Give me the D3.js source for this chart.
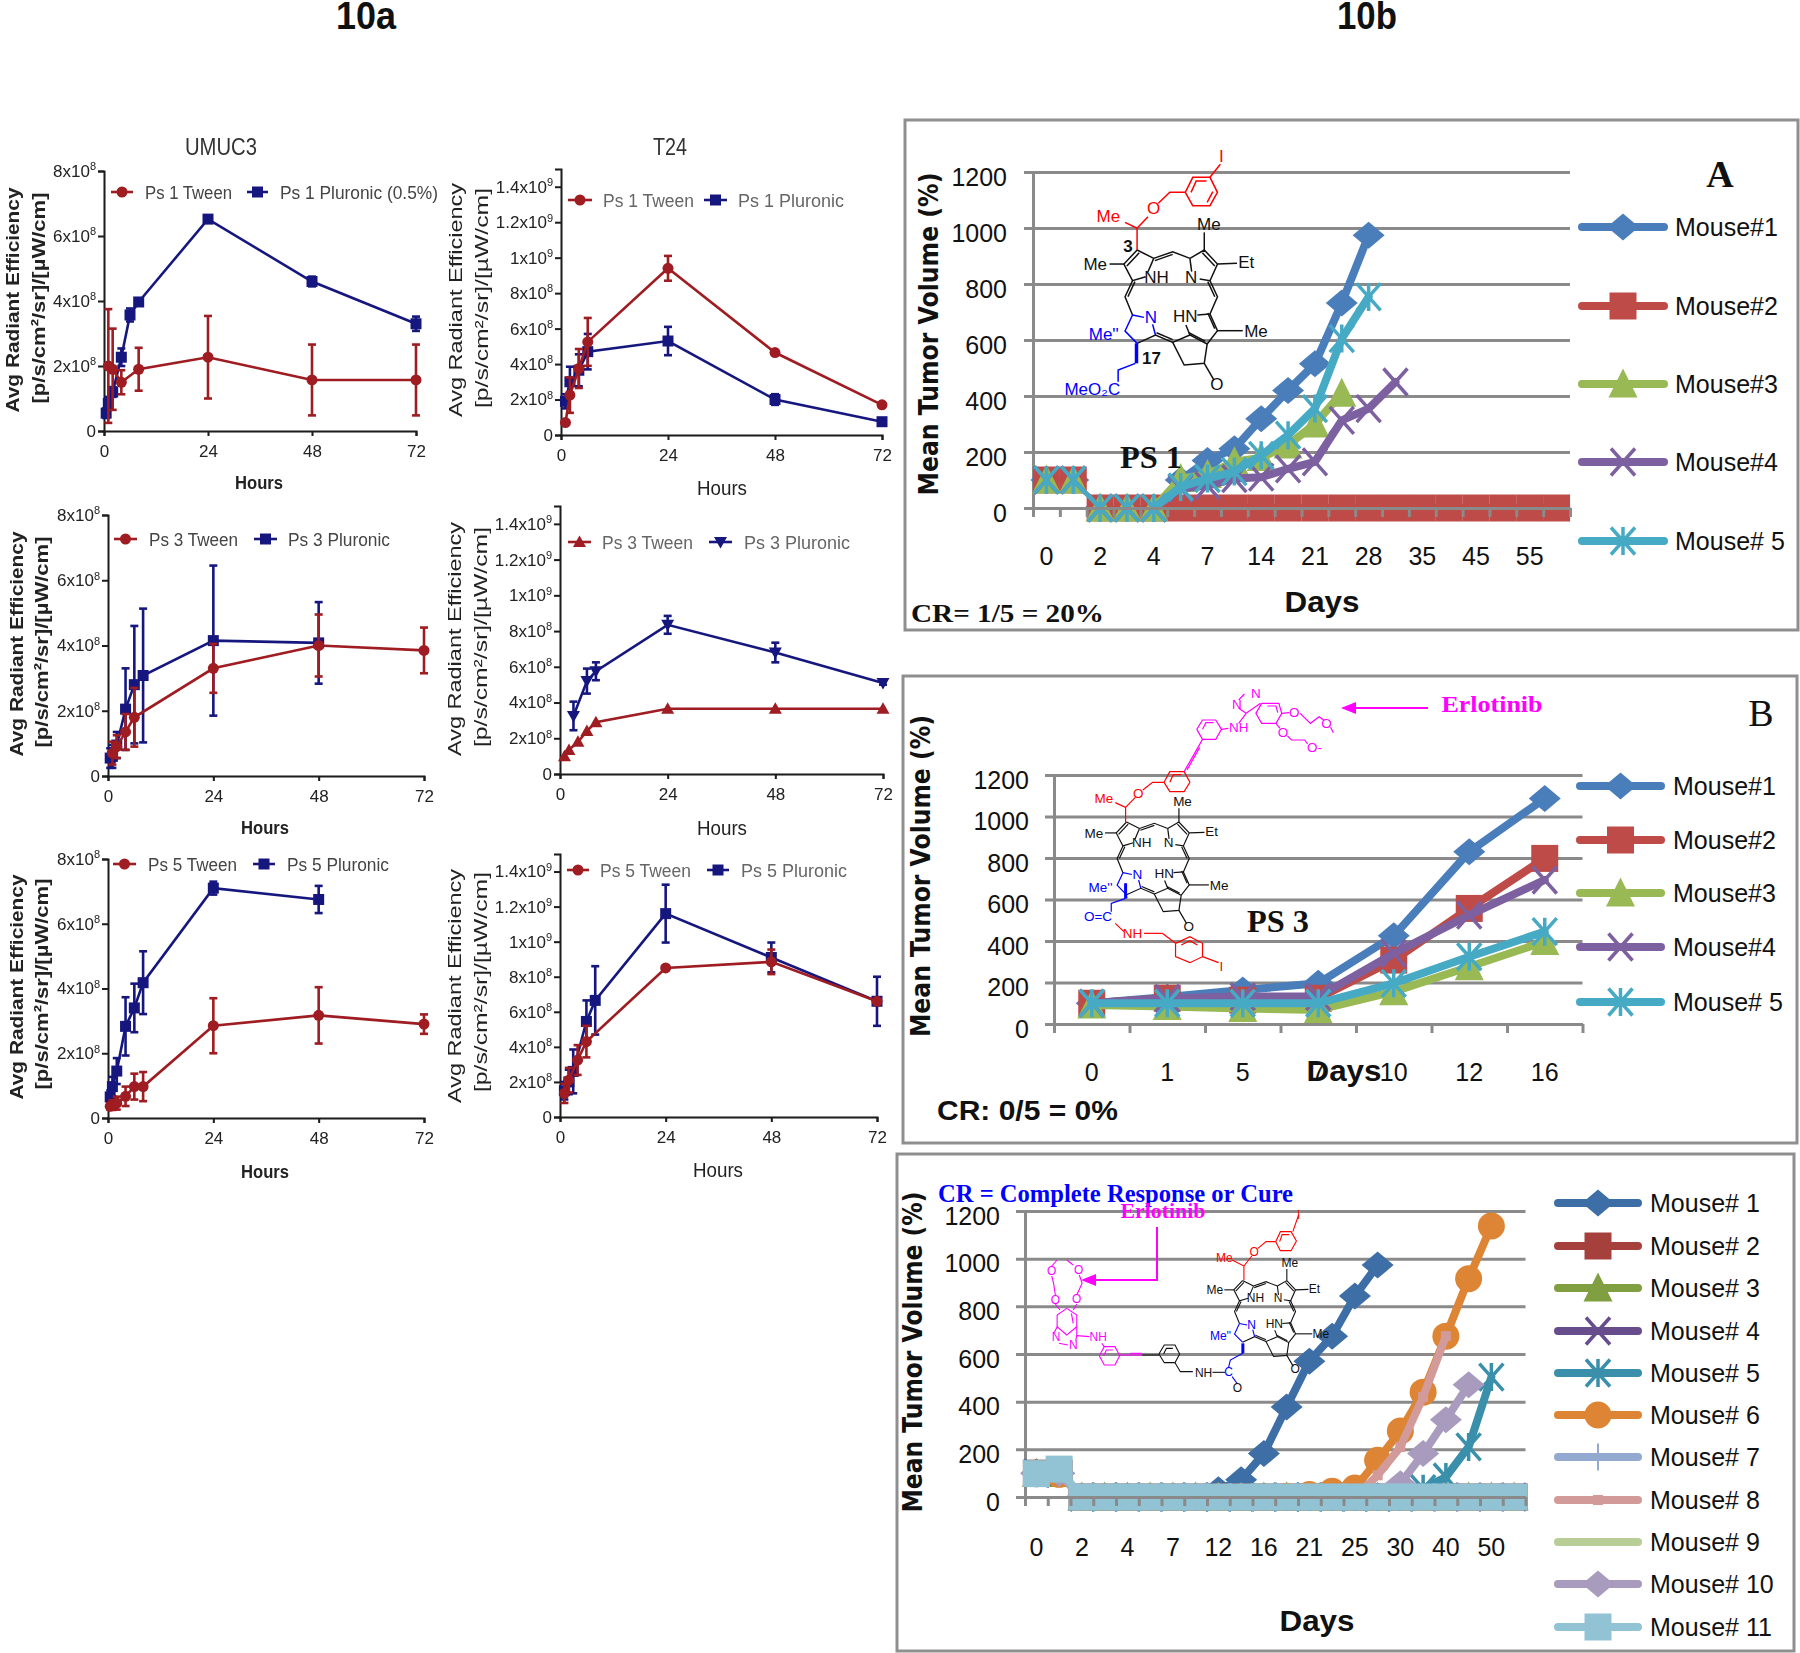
<!DOCTYPE html>
<html lang="en">

<head>
  <meta charset="UTF-8">
  <title>Figure 10 - tumor imaging and response</title>
  <style>
    body { margin: 0; background: #fff; }
    text { font-family: "Liberation Sans", Arial, sans-serif; }
  </style>
</head>

<body>
  <svg id="fig" width="1800" height="1653"></svg>

  <script src="https://d3js.org/d3.v7.min.js"></script>
  <script>
    // ---------- 10a: radiant efficiency, means and error bars in units of 1e8 ----------
    const ps1UmucTweenH = [1, 2, 4, 8, 24, 48, 72];
    const ps1UmucTween = [2.0, 1.9, 1.5, 1.9, 2.27, 1.57, 1.57];
    const ps1UmucTweenErr = [1.75, 1.25, 0.37, 0.66, 1.27, 1.09, 1.09];
    const ps1UmucPluH = [0.5, 1, 2, 4, 6, 8, 24, 48, 72];
    const ps1UmucPlu = [0.55, 0.85, 1.2, 2.27, 3.57, 3.97, 6.52, 4.6, 3.3];
    const ps1UmucPluErr = [0.15, 0.2, 0.15, 0.27, 0.2, 0.1, 0.1, 0.15, 0.22];

    const ps1T24TweenH = [1, 2, 4, 6, 24, 48, 72];
    const ps1T24Tween = [0.7, 2.25, 3.75, 5.25, 9.4, 4.65, 1.7];
    const ps1T24TweenErr = [0.1, 1.0, 1.1, 1.35, 0.7, 0.1, 0.1];
    const ps1T24PluH = [1, 2, 4, 6, 24, 48, 72];
    const ps1T24Plu = [1.9, 3.0, 3.65, 4.7, 5.3, 2.0, 0.75];
    const ps1T24PluErr = [0.4, 0.85, 0.9, 1.0, 0.8, 0.3, 0.15];

    const ps3UmucTweenH = [1, 2, 4, 6, 24, 48, 72];
    const ps3UmucTween = [0.7, 0.9, 1.35, 1.8, 3.3, 4.0, 3.85];
    const ps3UmucTweenErr = [0.35, 0.35, 0.55, 0.9, 0.75, 0.95, 0.7];
    const ps3UmucPluH = [0.5, 1, 2, 4, 6, 8, 24, 48];
    const ps3UmucPlu = [0.55, 0.6, 0.95, 2.05, 2.8, 3.08, 4.15, 4.08];
    const ps3UmucPluErr = [0.3, 0.35, 0.4, 1.25, 1.8, 2.05, 2.3, 1.25];

    const ps3T24TweenH = [1, 2, 4, 6, 8, 24, 48, 72];
    const ps3T24Tween = [1.0, 1.35, 1.8, 2.4, 2.9, 3.65, 3.65, 3.65];
    const ps3T24TweenErr = [0, 0, 0, 0, 0, 0, 0, 0];
    const ps3T24PluH = [3, 6, 8, 24, 48, 72];
    const ps3T24Plu = [3.25, 5.2, 5.75, 8.35, 6.8, 5.1];
    const ps3T24PluErr = [0.8, 0.7, 0.5, 0.5, 0.55, 0.1];

    const ps5UmucTweenH = [0.5, 1, 2, 4, 6, 8, 24, 48, 72];
    const ps5UmucTween = [0.36, 0.4, 0.46, 0.67, 0.97, 0.97, 2.85, 3.17, 2.9];
    const ps5UmucTweenErr = [0.1, 0.15, 0.2, 0.3, 0.4, 0.45, 0.85, 0.87, 0.3];
    const ps5UmucPluH = [0.5, 1, 2, 4, 6, 8, 24, 48];
    const ps5UmucPlu = [0.65, 0.97, 1.45, 2.83, 3.4, 4.18, 7.1, 6.75];
    const ps5UmucPluErr = [0.2, 0.3, 0.4, 0.9, 0.75, 0.97, 0.2, 0.42];

    const ps5T24TweenH = [1, 2, 4, 6, 24, 48, 72];
    const ps5T24Tween = [1.35, 2.1, 3.25, 4.3, 8.5, 8.85, 6.6];
    const ps5T24TweenErr = [0.55, 0.7, 0.85, 0.9, 0.1, 0.7, 0.1];
    const ps5T24PluH = [1, 2, 3, 6, 8, 24, 48, 72];
    const ps5T24Plu = [1.5, 2.0, 2.6, 5.45, 6.65, 11.6, 9.1, 6.6];
    const ps5T24PluErr = [0.5, 0.7, 1.25, 1.2, 1.95, 1.65, 0.85, 1.4];

    const hourTicks = [0, 24, 48, 72];
    const umucTicks = [0, 2, 4, 6, 8];
    const umucLabels = ["0", "2x10|8", "4x10|8", "6x10|8", "8x10|8"];
    const t24Ticks = [0, 2, 4, 6, 8, 10, 12, 14];
    const t24Labels = ["0", "2x10|8", "4x10|8", "6x10|8", "8x10|8", "1x10|9", "1.2x10|9", "1.4x10|9"];

    // ---------- 10b: tumor volume per mouse ----------
    const daysA = ["0", "", "2", "", "4", "", "7", "", "14", "", "21", "", "28", "", "35", "", "45", "", "55", ""];
    const mouseNamesA = ["Mouse#1", "Mouse#2", "Mouse#3", "Mouse#4", "Mouse# 5"];
    const a1 = [100, 100, 0, 0, 0, 100, 170, 212, 319, 420, 515, 732, 974];
    const a2 = [100, 100, 0, 0, 0, 0, 0, 0, 0, 0, 0, 0, 0, 0, 0, 0, 0, 0, 0, 0];
    const a3 = [100, 100, 0, 0, 0, 105, 120, 165, 180, 225, 300, 410];
    const a4 = [100, 100, 0, 0, 0, 70, 80, 105, 110, 140, 165, 313, 355, 450];
    const a5 = [100, 100, 0, 0, 0, 75, 105, 130, 188, 260, 355, 605, 754];

    const daysB = ["0", "1", "5", "7", "10", "12", "16"];
    const mouseNamesB = ["Mouse#1", "Mouse#2", "Mouse#3", "Mouse#4", "Mouse# 5"];
    const b1 = [100, 130, 164, 196, 425, 830, 1087];
    const b2 = [100, 124, 115, 124, 308, 557, 798];
    const b3 = [92, 84, 75, 68, 156, 276, 397];
    const b4 = [100, 124, 132, 132, 340, 525, 694];
    const b5 = [100, 100, 100, 100, 196, 324, 445];

    const daysC = ["0", "", "2", "", "4", "", "7", "", "12", "", "16", "", "21", "", "25", "", "30", "", "40", "", "50", ""];
    const mouseNamesC = ["Mouse# 1", "Mouse# 2", "Mouse# 3", "Mouse# 4", "Mouse# 5", "Mouse# 6", "Mouse# 7", "Mouse# 8", "Mouse#  9", "Mouse# 10", "Mouse# 11"];
    const c1 = [100, 100, 0, 0, 0, 0, 0, 0, 30, 72, 182, 378, 570, 675, 843, 973];
    const c2 = [100, 100, 0, 0, 0, 0, 0, 0, 0, 0, 0, 0, 0, 0, 0, 0, 0, 0, 0, 0, 0, 0];
    const c3 = [100, 100, 0, 0, 0, 0, 0, 0, 0, 0, 0, 0, 0, 0, 0, 0, 0, 0, 0, 0, 0, 0];
    const c4 = [100, 100, 0, 0, 0, 0, 0, 0, 0, 0, 0, 0, 0, 0, 0, 0, 0, 0, 0, 0, 0, 0];
    const c5 = [100, 100, 0, 0, 0, 0, 0, 0, 0, 0, 0, 0, 0, 0, 0, 0, 0, 35, 84, 210, 503];
    const c6 = [100, 95, 0, 0, 0, 0, 0, 0, 0, 0, 0, 3, 10, 24, 38, 154, 277, 440, 675, 916, 1137];
    const c7 = [100, 100, 0, 0, 0, 0, 0, 0, 0, 0, 0, 0, 0, 0, 0, 0, 0, 0, 0, 0, 0, 0];
    const c8 = [100, 100, 0, 0, 0, 0, 0, 0, 0, 0, 0, 0, 0, 0, 0, 91, 210, 420, 675];
    const c9 = [100, 100, 0, 0, 0, 0, 0, 0, 0, 0, 0, 0, 0, 0, 0, 0, 0, 0, 0, 0, 0, 0];
    const c10 = [100, 100, 0, 0, 0, 0, 0, 0, 0, 0, 0, 0, 0, 0, 0, 0, 56, 182, 324, 471];
    const c11 = [98, 117, 0, 0, 0, 0, 0, 0, 0, 0, 0, 0, 0, 0, 0, 0, 0, 0, 0, 0, 0, 0];

    const volumeTicks = [0, 200, 400, 600, 800, 1000, 1200];

    const red = "#9e1b20", navy = "#16197f";
    const svg = d3.select("#fig");

    svg.append("defs").append("filter").attr("id", "soft")
      .append("feGaussianBlur").attr("stdDeviation", 0.45);

    function txt(parent, x, y, s, size, opts = {}) {
      const t = parent.append("text").attr("x", x).attr("y", y).text(s)
        .attr("font-size", size)
        .attr("fill", opts.fill || "#111")
        .attr("text-anchor", opts.anchor || "middle")
        .attr("font-weight", opts.weight || "normal");
      if (opts.family) t.style("font-family", opts.family);
      if (opts.len) t.attr("textLength", opts.len).attr("lengthAdjust", "spacingAndGlyphs");
      if (opts.rotate) t.attr("transform", `rotate(-90,${x},${y})`);
      return t;
    }

    txt(svg, 366, 29, "10a", 38, { weight: "bold", len: 60 });
    txt(svg, 1367, 29, "10b", 38, { weight: "bold", len: 60 });

    // ---------- left column: small prism style plots ----------
    const smallMarker = {
      circle: "M-5.5,0A5.5,5.5 0 1,1 5.5,0A5.5,5.5 0 1,1 -5.5,0Z",
      square: "M-5.5,-5.5H5.5V5.5H-5.5Z",
      up: "M0,-6.5L6.5,5H-6.5Z",
      down: "M0,6.5L6.5,-5H-6.5Z"
    };

    const leftPanels = [
      {
        x: [104, 416], y: [431, 171], top: 8, ticks: umucTicks, labels: umucLabels, bold: true,
        ylab: [13, 300, 39, 298], hours: [259, 489], legY: 192,
        leg: [[111, 133, 145, "Ps 1 Tween", 87], [247, 268, 280, "Ps 1 Pluronic (0.5%)", 158]],
        series: [[ps1UmucPluH, ps1UmucPlu, ps1UmucPluErr, navy, "square"], [ps1UmucTweenH, ps1UmucTween, ps1UmucTweenErr, red, "circle"]]
      },
      {
        x: [561, 882], y: [435, 169], top: 15, ticks: t24Ticks, labels: t24Labels, bold: false,
        ylab: [456, 300, 482, 298], hours: [722, 495], legY: 200,
        leg: [[568, 592, 603, "Ps 1 Tween", 91], [704, 727, 738, "Ps 1 Pluronic", 106]],
        series: [[ps1T24PluH, ps1T24Plu, ps1T24PluErr, navy, "square"], [ps1T24TweenH, ps1T24Tween, ps1T24TweenErr, red, "circle"]]
      },
      {
        x: [108, 424], y: [776, 515], top: 8, ticks: umucTicks, labels: umucLabels, bold: true,
        ylab: [17, 644, 42, 642], hours: [265, 834], legY: 539,
        leg: [[114, 137, 149, "Ps 3 Tween", 89], [254, 277, 288, "Ps 3 Pluronic", 102]],
        series: [[ps3UmucPluH, ps3UmucPlu, ps3UmucPluErr, navy, "square"], [ps3UmucTweenH, ps3UmucTween, ps3UmucTweenErr, red, "circle"]]
      },
      {
        x: [560, 883], y: [774, 506], top: 15, ticks: t24Ticks, labels: t24Labels, bold: false,
        ylab: [455, 639, 481, 637], hours: [722, 835], legY: 542,
        leg: [[568, 591, 602, "Ps 3 Tween", 91], [709, 732, 744, "Ps 3 Pluronic", 106]],
        series: [[ps3T24PluH, ps3T24Plu, ps3T24PluErr, navy, "down"], [ps3T24TweenH, ps3T24Tween, ps3T24TweenErr, red, "up"]]
      },
      {
        x: [108, 424], y: [1118, 859], top: 8, ticks: umucTicks, labels: umucLabels, bold: true,
        ylab: [17, 987, 42, 984], hours: [265, 1178], legY: 864,
        leg: [[113, 136, 148, "Ps 5 Tween", 89], [253, 275, 287, "Ps 5 Pluronic", 102]],
        series: [[ps5UmucPluH, ps5UmucPlu, ps5UmucPluErr, navy, "square"], [ps5UmucTweenH, ps5UmucTween, ps5UmucTweenErr, red, "circle"]]
      },
      {
        x: [560, 877], y: [1117, 854], top: 15, ticks: t24Ticks, labels: t24Labels, bold: false,
        ylab: [455, 986, 481, 982], hours: [718, 1177], legY: 870,
        leg: [[567, 589, 600, "Ps 5 Tween", 91], [707, 729, 741, "Ps 5 Pluronic", 106]],
        series: [[ps5T24PluH, ps5T24Plu, ps5T24PluErr, navy, "square"], [ps5T24TweenH, ps5T24Tween, ps5T24TweenErr, red, "circle"]]
      }
    ];

    const leftG = svg.append("g").attr("filter", "url(#soft)");
    txt(leftG, 221, 155, "UMUC3", 23, { fill: "#333", len: 72 });
    txt(leftG, 670, 155, "T24", 23, { fill: "#333", len: 34 });

    leftPanels.forEach(p => {
      const g = leftG.append("g");
      const x = d3.scaleLinear().domain([0, 72]).range(p.x);
      const y = d3.scaleLinear().domain([0, p.top]).range(p.y);

      const yAxis = g.append("g").attr("transform", `translate(${p.x[0]},0)`)
        .call(d3.axisLeft(y).tickValues(p.ticks).tickFormat("").tickSize(6));
      const xAxis = g.append("g").attr("transform", `translate(0,${p.y[0]})`)
        .call(d3.axisBottom(x).tickValues(hourTicks).tickFormat(d3.format("d")).tickSize(5).tickPadding(9));
      [yAxis, xAxis].forEach(a => a.selectAll("path,line").attr("stroke", "#1a1a1a").attr("stroke-width", 2));
      xAxis.selectAll("text").attr("font-size", 17).attr("fill", "#222");

      // tick labels carry the exponent as a raised tspan
      yAxis.selectAll(".tick text").each(function (d, i) {
        const [base, exp] = p.labels[i].split("|");
        const t = d3.select(this).attr("font-size", 17).attr("fill", "#222").attr("x", -8).text(base);
        if (exp) t.append("tspan").attr("font-size", 11).attr("dy", "-0.6em").text(exp);
      });

      p.series.forEach(([hours, mean, err, color, shape]) => {
        const pts = hours.map((h, i) => ({ h, m: mean[i], e: err[i] }));
        const s = g.append("g");
        s.append("path").datum(pts)
          .attr("fill", "none").attr("stroke", color).attr("stroke-width", 2.6)
          .attr("d", d3.line().x(d => x(d.h)).y(d => y(d.m)));
        const eb = s.selectAll("g.err").data(pts.filter(d => d.e > 0)).enter().append("g");
        eb.append("line").attr("x1", d => x(d.h)).attr("x2", d => x(d.h))
          .attr("y1", d => y(d.m - d.e)).attr("y2", d => y(d.m + d.e));
        eb.append("line").attr("x1", d => x(d.h) - 4).attr("x2", d => x(d.h) + 4)
          .attr("y1", d => y(d.m - d.e)).attr("y2", d => y(d.m - d.e));
        eb.append("line").attr("x1", d => x(d.h) - 4).attr("x2", d => x(d.h) + 4)
          .attr("y1", d => y(d.m + d.e)).attr("y2", d => y(d.m + d.e));
        eb.selectAll("line").attr("stroke", color).attr("stroke-width", 2.6);
        s.selectAll("path.mk").data(pts).enter().append("path").attr("class", "mk")
          .attr("d", smallMarker[shape]).attr("fill", color)
          .attr("transform", d => `translate(${x(d.h)},${y(d.m)})`);
      });

      // y title is two rotated lines
      const w = p.bold ? "bold" : "normal";
      const lens = p.bold ? [225, 211] : [234, 220];
      txt(g, p.ylab[0] + 6, p.ylab[1], "Avg Radiant Efficiency", 18.5, { weight: w, rotate: true, len: lens[0], fill: "#222" });
      txt(g, p.ylab[2] + 6, p.ylab[3], "[p/s/cm²/sr]/[µW/cm]", 18.5, { weight: w, rotate: true, len: lens[1], fill: "#222" });
      txt(g, p.hours[0], p.hours[1], "Hours", p.bold ? 19 : 20, { weight: w, fill: "#222", len: p.bold ? 48 : 50 });

      // legend
      p.leg.forEach((l, i) => {
        const s = p.series[1 - i];
        g.append("line").attr("x1", l[0]).attr("x2", l[1]).attr("y1", p.legY).attr("y2", p.legY)
          .attr("stroke", s[3]).attr("stroke-width", 2.6);
        g.append("path").attr("d", smallMarker[s[4]]).attr("fill", s[3])
          .attr("transform", `translate(${(l[0] + l[1]) / 2},${p.legY})`);
        txt(g, l[2], p.legY + 7, l[3], 18, { anchor: "start", len: l[4], fill: p.bold ? "#444" : "#666" });
      });
    });

    // ---------- right column: excel style plots ----------
    const bigMarker = {
      diamond: "M0,-13.5L16,0L0,13.5L-16,0Z",
      square: "M-13.5,-13.5H13.5V13.5H-13.5Z",
      triangle: "M0,-15.5L14.5,13.5L-14.5,13.5Z",
      circle: "M-13.5,0A13.5,13.5 0 1,1 13.5,0A13.5,13.5 0 1,1 -13.5,0Z",
      x: "M-12,-13.5L12,13.5M12,-13.5L-12,13.5",
      star: "M-12,-13.5L12,13.5M12,-13.5L-12,13.5M0,-14V14",
      plus: "M0,-13.5V13.5",
      smallsquare: "M-5,-5H5V5H-5Z",
      dash: "M-13,-4H13V4H-13Z"
    };
    const isStroke = m => m === "x" || m === "star" || m === "plus";

    const excelA = ["#4a7ebb", "#be4b48", "#98b954", "#7d60a0", "#46aac5"];
    const excelC = ["#3d6ea6", "#a5403d", "#7f9f40", "#674d8c", "#3a8fab", "#dd8534", "#93a9cf", "#d29a98", "#b9cd96", "#a99bbd", "#92c3d4"];
    const shapes5 = ["diamond", "square", "triangle", "x", "star"];
    const shapes11 = ["diamond", "square", "triangle", "x", "star", "circle", "plus", "smallsquare", "dash", "diamond", "square"];

    const rightPanels = [
      {
        frame: [905, 120, 1798, 630], x: [1033, 1570], y: [508, 172], days: daysA, tickRight: -26,
        series: [a1, a2, a3, a4, a5], colors: excelA, shapes: shapes5, names: mouseNamesA,
        legX: [1582, 1664, 1675], legY: [227, 306, 384, 462, 541],
        ylab: [938, 334, 323], tickY: 565, days2: [1322, 612],
        thickFrom: 4 // only a thin drop shows before the tumours regrow
      },
      {
        frame: [903, 676, 1797, 1143], x: [1054, 1582.5], y: [1024, 775], days: daysB, tickRight: -25,
        series: [b1, b2, b3, b4, b5], colors: excelA, shapes: shapes5, names: mouseNamesB,
        legX: [1580, 1661, 1673], legY: [786, 840, 893, 947, 1002],
        ylab: [930, 876, 322], tickY: 1081, days2: [1344, 1081], thickFrom: 0
      },
      {
        frame: [897, 1154, 1794, 1651], x: [1025, 1525.5], y: [1497, 1211], days: daysC, tickRight: -25,
        series: [c1, c2, c3, c4, c5, c6, c7, c8, c9, c10, c11], colors: excelC, shapes: shapes11, names: mouseNamesC,
        legX: [1558, 1638, 1650], legY: [1203, 1246, 1288, 1331, 1373, 1415, 1457, 1500, 1542, 1584, 1627],
        ylab: [922, 1352, 321], tickY: 1556, days2: [1317, 1631], thickFrom: 0
      }
    ];

    const rightLayers = rightPanels.map(p => {
      const frame = svg.append("g");
      frame.append("rect").attr("x", p.frame[0]).attr("y", p.frame[1])
        .attr("width", p.frame[2] - p.frame[0]).attr("height", p.frame[3] - p.frame[1])
        .attr("fill", "#fff").attr("stroke", "#8f8f8f").attr("stroke-width", 3);

      const n = p.days.length;
      const xBand = d3.scaleBand().domain(d3.range(n)).range(p.x);
      const xEdge = d3.scaleLinear().domain([0, n]).range(p.x);
      const y = d3.scaleLinear().domain([0, 1200]).range(p.y);
      const width = p.x[1] - p.x[0];

      // gridlines and y axis sit under the series
      const grid = frame.append("g").attr("transform", `translate(${p.x[0]},0)`)
        .call(d3.axisLeft(y).tickValues(volumeTicks).tickFormat(d3.format("d")).tickSizeInner(-width).tickSizeOuter(0));
      grid.selectAll("path,line").attr("stroke", "#8a8a8a").attr("stroke-width", 3);
      grid.selectAll(".tick line").attr("x1", -9);
      grid.selectAll("text").attr("x", p.tickRight).attr("dy", "0.32em").attr("y", 5)
        .attr("font-size", 25).attr("fill", "#111");

      const line = d3.line().x(d => xBand(d.i) + xBand.bandwidth() / 2).y(d => y(d.v));
      p.series.forEach((vals, k) => {
        const pts = vals.map((v, i) => ({ i, v }));
        const s = frame.append("g");
        if (p.thickFrom > 0) {
          s.append("path").datum(pts.slice(1, 3)).attr("fill", "none").attr("stroke", p.colors[k])
            .attr("stroke-width", 4).attr("d", line);
        }
        s.append("path").datum(pts.slice(p.thickFrom)).attr("fill", "none").attr("stroke", p.colors[k])
          .attr("stroke-width", 8).attr("stroke-linejoin", "round").attr("stroke-linecap", "round").attr("d", line);
        const shape = p.shapes[k];
        s.selectAll("path.mk").data(pts).enter().append("path").attr("class", "mk")
          .attr("d", bigMarker[shape])
          .attr("transform", d => `translate(${xBand(d.i) + xBand.bandwidth() / 2},${y(d.v)})`)
          .attr("fill", isStroke(shape) ? "none" : p.colors[k])
          .attr("stroke", isStroke(shape) ? p.colors[k] : "none")
          .attr("stroke-width", shape === "plus" ? 2 : 3.5);
      });

      // x axis goes over the series, the zero line stays visible on the squares
      const xAxis = frame.append("g").attr("transform", `translate(0,${p.y[0]})`)
        .call(d3.axisBottom(xEdge).tickValues(d3.range(n + 1)).tickFormat("").tickSizeOuter(0).tickSizeInner(9));
      xAxis.selectAll("path,line").attr("stroke", "#8a8a8a").attr("stroke-width", 3);

      const labels = frame.append("g").attr("transform", `translate(0,${p.tickY})`)
        .call(d3.axisBottom(xBand).tickFormat(i => p.days[i]).tickSize(0).tickPadding(0));
      labels.select(".domain").remove();
      labels.selectAll("text").attr("y", 0).attr("dy", 0).attr("font-size", 25).attr("fill", "#111");

      txt(frame, p.ylab[0], p.ylab[1], "Mean Tumor Volume (%)", 26, {
        weight: "bold", rotate: true, len: p.ylab[2], fill: "#111",
        family: '"DejaVu Sans", sans-serif'
      });
      txt(frame, p.days2[0], p.days2[1], "Days", 30, { weight: "bold", len: 75 });

      // legend
      p.names.forEach((name, k) => {
        const yy = p.legY[k];
        const shape = p.shapes[k];
        frame.append("line").attr("x1", p.legX[0]).attr("x2", p.legX[1]).attr("y1", yy).attr("y2", yy)
          .attr("stroke", p.colors[k]).attr("stroke-width", 8).attr("stroke-linecap", "round");
        frame.append("path").attr("d", bigMarker[shape])
          .attr("transform", `translate(${(p.legX[0] + p.legX[1]) / 2},${yy})`)
          .attr("fill", isStroke(shape) ? "none" : p.colors[k])
          .attr("stroke", isStroke(shape) ? p.colors[k] : "none")
          .attr("stroke-width", shape === "plus" ? 2 : 3.5);
        txt(frame, p.legX[2], yy + 9, name, 25, { anchor: "start" });
      });
      return frame;
    });

    // ---------- chemical structures ----------
    const serif = '"Liberation Serif", serif';
    const magenta = "#ff00ff", blue = "#0000ff", redAtom = "#ff0000";

    const coreBonds = [
      [[413, 405], [390, 447], [405, 497], [428, 485]],
      [[442, 430], [413, 405]], [[442, 430], [432, 470]],
      [[442, 430], [475, 410], [505, 430]],
      [[505, 430], [530, 405], [553, 447], [540, 497], [522, 492]],
      [[505, 430], [508, 470]],
      [[405, 497], [392, 545], [405, 600]],
      [[540, 497], [553, 545], [540, 597], [553, 647], [535, 687], [505, 660], [498, 630]],
      [[540, 597], [518, 600]],
      [[535, 687], [530, 745], [495, 750], [475, 682], [505, 660]],
      [[475, 682], [445, 660], [413, 685]],
      [[530, 745], [547, 795]],
      [[530, 405], [530, 352]], [[553, 447], [587, 445]], [[553, 647], [597, 647]], [[390, 447], [365, 447]]
    ];
    const coreDoubles = [
      [[390, 447], [413, 405]], [[405, 497], [392, 545]], [[442, 430], [475, 410]], [[530, 405], [553, 447]],
      [[540, 497], [553, 545]], [[540, 597], [553, 647]], [[505, 660], [535, 687]], [[475, 682], [445, 660]]
    ];
    const coreBlue = [[[405, 600], [425, 607]], [[405, 600], [392, 648], [413, 685]], [[445, 660], [440, 628]]];
    const coreLabels = [
      ["NH", 447, 503, "#111"], ["N", 507, 503, "#111"], ["HN", 497, 620, "#111"], ["N", 437, 623, blue],
      ["Me", 538, 344, "#111"], ["Et", 603, 460, "#111"], ["Me", 620, 665, "#111"], ["Me", 340, 465, "#111"],
      ["Me''", 355, 675, blue], ["O", 552, 825, "#111"]
    ];

    function molLines(parent, lines, map, color, sw) {
      const l = d3.line().x(d => map(d)[0]).y(d => map(d)[1]);
      parent.selectAll(null).data(lines).enter().append("path")
        .attr("d", l).attr("fill", "none").attr("stroke", color).attr("stroke-width", sw);
    }

    function molText(parent, items, map, size) {
      items.forEach(([s, x, y, c, weight]) => {
        const p = map([x, y]);
        txt(parent, p[0], p[1], s, size, { fill: c, weight: weight || "normal" });
      });
    }

    function drawCore(parent, tx, ty, s, size, sw) {
      const map = ([x, y]) => [tx + (x - 475) / 1.742 * s, ty + (y - 410) / 3 * s];
      molLines(parent, coreBonds, map, "#111", sw);
      const inner = coreDoubles.map(b => b.map(([x, y]) => [x + (475 - x) * 0.06, y + (545 - y) * 0.06]));
      molLines(parent, inner, map, "#111", sw);
      molLines(parent, coreBlue, map, blue, sw);
      molText(parent, coreLabels, map, size);
    }

    // panel A
    const mapA = ([x, y]) => [900 + x / 1.742, 115 + y / 3];
    const molA = rightLayers[0].append("g");
    drawCore(molA, 1172.7, 251.7, 1, 17, 1.5);
    molLines(molA, [
      [[413, 405], [413, 340], [392, 322]], [[413, 340], [432, 305]], [[450, 265], [470, 232], [497, 232]],
      [[497, 232], [510, 187], [540, 187], [553, 232], [540, 272], [510, 272], [497, 232]],
      [[507, 232], [516, 198], [534, 198]], [[545, 230], [535, 262]], [[540, 187], [558, 148]]
    ], mapA, redAtom, 1.5);
    molLines(molA, [[[412, 685], [412, 745]]], mapA, blue, 3.5);
    molLines(molA, [[[410, 745], [380, 765], [380, 800]]], mapA, blue, 1.5);
    molText(molA, [
      ["Me", 363, 322, redAtom], ["O", 442, 298, redAtom], ["I", 560, 140, redAtom],
      ["MeO₂C", 335, 840, blue], ["3", 397, 412, "#111", "bold"], ["17", 438, 748, "#111", "bold"]
    ], mapA, 17);
    txt(molA, 1151, 468, "PS 1", 31, { weight: "bold", family: serif, len: 62 });
    txt(molA, 1720, 187, "A", 38, { weight: "bold", family: serif });
    txt(molA, 911, 622, "CR= 1/5 = 20%", 26, { anchor: "start", weight: "bold", family: serif, len: 193 });

    // panel B
    const mapB = ([x, y]) => [900 + x / 1.742, 670 + y / 3];
    const molB = rightLayers[1].append("g");
    drawCore(molB, 1154.3, 823.3, 0.78, 13.5, 1.2);
    molLines(molB, [
      [[393, 458], [393, 412], [375, 398]], [[393, 412], [410, 382]], [[423, 360], [440, 337], [460, 337]],
      [[460, 337], [470, 305], [495, 305], [505, 337], [495, 365], [470, 365], [460, 337]],
      [[470, 337], [476, 314], [490, 314]],
      [[480, 820], [505, 800], [527, 820], [527, 860], [505, 878], [480, 860], [480, 820]],
      [[490, 825], [505, 812], [518, 825]], [[457, 790], [480, 820]], [[425, 790], [457, 790]], [[527, 860], [555, 878]],
      [[375, 760], [390, 785]]
    ], mapB, redAtom, 1.2);
    molLines(molB, [
      [[495, 305], [527, 208]], [[500, 300], [522, 232]],
      [[517, 178], [527, 150], [550, 150], [560, 178], [550, 208], [527, 208], [517, 178]],
      [[527, 178], [533, 158], [546, 158]],
      [[560, 178], [572, 175]], [[590, 160], [603, 130]],
      [[603, 130], [590, 115]], [[590, 90], [600, 72]], [[628, 100], [603, 130]],
      [[630, 100], [660, 100], [665, 130], [655, 160], [630, 160], [620, 130], [630, 100]],
      [[640, 108], [655, 108], [658, 128]],
      [[665, 130], [678, 128]], [[697, 130], [715, 160], [730, 140], [738, 150]], [[750, 172], [755, 188]],
      [[655, 160], [662, 175]], [[675, 198], [682, 210], [705, 210], [710, 222]]
    ], mapB, magenta, 1.2);
    molLines(molB, [[[393, 640], [393, 685]]], mapB, blue, 3);
    molLines(molB, [[[393, 685], [368, 700], [368, 725]], [[395, 685], [393, 640]]], mapB, blue, 1.2);
    molText(molB, [
      ["Me", 355, 400, redAtom], ["O", 415, 383, redAtom], ["NH", 405, 805, redAtom], ["I", 560, 903, redAtom],
      ["O=C", 345, 753, blue], ["NH", 590, 187, magenta], ["N", 587, 117, magenta], ["N", 620, 85, magenta],
      ["O", 687, 140, magenta], ["O", 743, 175, magenta], ["O", 667, 200, magenta], ["O-", 722, 247, magenta]
    ], mapB, 13.5);
    txt(molB, 1278, 932, "PS 3", 31, { weight: "bold", family: serif, len: 62 });
    txt(molB, 1761, 726, "B", 38, { family: serif });
    txt(molB, 937, 1120, "CR: 0/5 = 0%", 27, { anchor: "start", weight: "bold", len: 181 });
    txt(molB, 1492, 712, "Erlotinib", 24, { weight: "bold", family: serif, fill: magenta, len: 101 });
    molB.append("line").attr("x1", 1428).attr("x2", 1352).attr("y1", 708).attr("y2", 708)
      .attr("stroke", magenta).attr("stroke-width", 2);
    molB.append("path").attr("d", "M1341,708L1356,702V714Z").attr("fill", magenta);

    // panel C
    const mapC = ([x, y]) => [1000 + x / 2.8, 1180 + y / 3];
    const molC = rightLayers[2].append("g");
    drawCore(molC, 1266, 1281.7, 0.66, 12, 1.1);
    molLines(molC, [
      [[683, 300], [683, 258], [650, 240]], [[683, 258], [705, 228]], [[722, 205], [745, 185], [772, 185]],
      [[772, 185], [785, 155], [815, 155], [830, 183], [815, 212], [785, 212], [772, 185]],
      [[783, 185], [790, 164], [810, 164]], [[820, 155], [836, 105]]
    ], mapC, redAtom, 1.1);
    molLines(molC, [[[680, 490], [680, 520]]], mapC, blue, 3);
    molLines(molC, [[[680, 520], [645, 540], [640, 562]], [[650, 590], [665, 612]]], mapC, blue, 1.1);
    molLines(molC, [
      [[595, 577], [630, 577]], [[540, 575], [505, 575], [490, 548]],
      [[445, 522], [460, 495], [490, 495], [503, 522], [490, 548], [460, 548], [445, 522]],
      [[458, 522], [466, 505], [484, 505]], [[398, 525], [445, 525]]
    ], mapC, "#111", 1.1);
    molLines(molC, [
      [[336, 525], [398, 525]], [[365, 520], [398, 520]],
      [[278, 527], [292, 500], [322, 500], [335, 527], [322, 555], [292, 555], [278, 527]],
      [[290, 527], [298, 510], [316, 510]], [[292, 500], [285, 490]], [[250, 470], [215, 467]],
      [[187, 385], [215, 405], [215, 440], [187, 465], [160, 440], [160, 405], [187, 385]],
      [[200, 400], [205, 430]], [[160, 440], [152, 458]], [[215, 440], [215, 467], [212, 482]], [[165, 490], [190, 495]],
      [[155, 372], [168, 390]], [[215, 372], [205, 390]],
      [[155, 345], [150, 310], [145, 288]], [[145, 258], [160, 240]],
      [[215, 345], [230, 310], [222, 285]], [[205, 255], [187, 240]]
    ], mapC, magenta, 1.1);
    molText(molC, [
      ["Me", 628, 245, redAtom], ["O", 712, 229, redAtom], ["I", 836, 118, redAtom],
      ["C", 640, 589, blue], ["NH", 570, 590, "#111"], ["O", 665, 636, "#111"],
      ["NH", 275, 484, magenta], ["N", 157, 484, magenta], ["N", 205, 508, magenta],
      ["O", 155, 372, magenta], ["O", 215, 370, magenta], ["O", 145, 285, magenta], ["O", 220, 282, magenta]
    ], mapC, 12);
    txt(molC, 938, 1202, "CR = Complete Response or Cure", 26, { anchor: "start", weight: "bold", family: serif, fill: blue, len: 355 });
    txt(molC, 1163, 1218, "Erlotinib", 22, { weight: "bold", family: serif, fill: magenta, len: 85 });
    molC.append("path").attr("d", "M1157,1227V1280H1092").attr("fill", "none").attr("stroke", magenta).attr("stroke-width", 2);
    molC.append("path").attr("d", "M1081,1280L1096,1274V1286Z").attr("fill", magenta);
  </script>
</body>

</html>
